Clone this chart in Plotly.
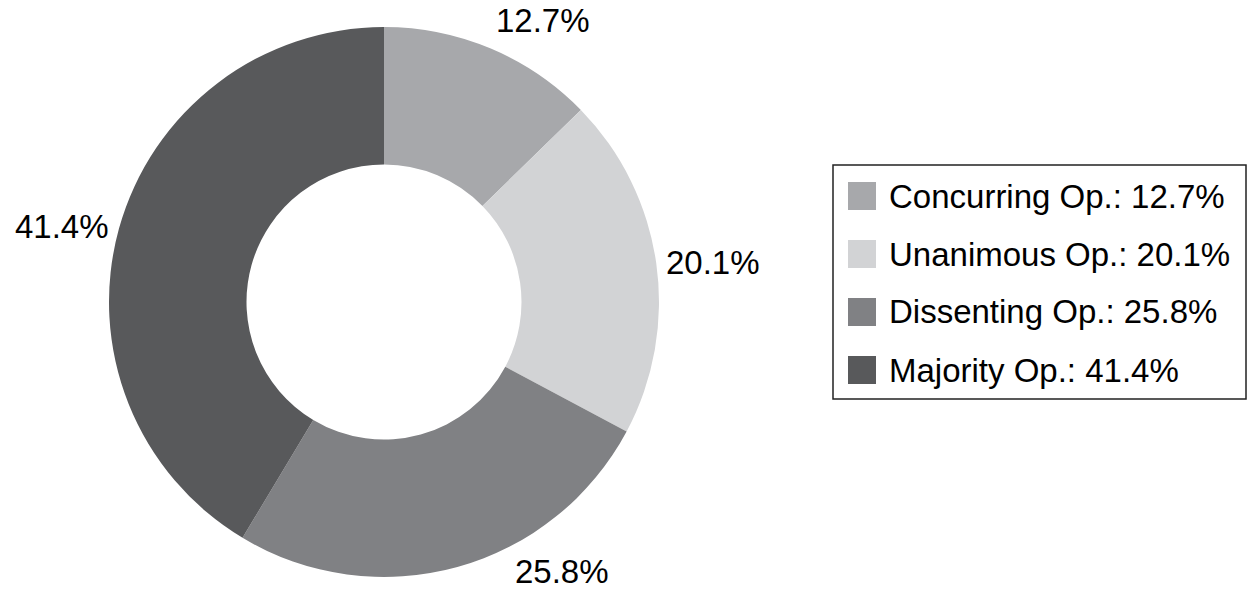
import math
import plotly.graph_objects as go

categories = ["Concurring Op.", "Unanimous Op.", "Dissenting Op.", "Majority Op."]
values = [12.7, 20.1, 25.8, 41.4]
colors = ["#a7a8ab", "#d2d3d5", "#808184", "#58595b"]
label_fmt = "{:.1f}%"

W, H = 1253, 592
FONT = "Liberation Sans, Arial, Helvetica, sans-serif"
FS = 33

# pie geometry (pixels)
CX, CY, R = 384, 302, 275

fig = go.Figure()
fig.add_trace(go.Pie(
    labels=categories,
    values=values,
    textinfo="none",
    hole=0.5,
    sort=False,
    direction="clockwise",
    rotation=0,
    marker=dict(colors=colors, line=dict(width=0)),
    showlegend=False,
    hoverinfo="label+percent",
    domain=dict(x=[(CX - R) / W, (CX + R) / W], y=[(H - CY - R) / H, (H - CY + R) / H]),
))

annotations = []
# outside percentage labels, placed at each slice's mid-angle
total = sum(values)
cum = 0.0
TH = FS * 1.15
GAP = 8
for v in values:
    mid = (cum + v / 2) / total * 2 * math.pi
    cum += v
    s, c = math.sin(mid), math.cos(mid)
    px = CX + (R + GAP) * s
    py = CY - (R + GAP) * c
    xa = "left" if s > 0.3 else ("right" if s < -0.3 else "center")
    ya = "bottom" if c > 0.3 else ("top" if c < -0.3 else "middle")
    # keep text inside canvas: slide along the rim until it fits
    if ya == "top" and py + TH > H:
        ya = "bottom"
        py = H
        top = H - TH
        dx = math.sqrt(max((R + GAP) ** 2 - (top - CY) ** 2, 0))
        if s >= 0:
            xa, px = "left", CX + dx
        else:
            xa, px = "right", CX - dx
    if ya == "bottom" and py - TH < 0:
        py = TH
    annotations.append(dict(xref="paper", yref="paper", x=px / W, y=1 - py / H,
                            xanchor=xa, yanchor=ya, showarrow=False,
                            text=label_fmt.format(v),
                            font=dict(family=FONT, size=FS, color="black")))

# custom legend (large square swatches)
lx0, lx1, ly0, ly1 = 833, 1246, 165, 399
row_h = 58
first_y = 196
shapes = [dict(type="rect", xref="paper", yref="paper",
               x0=lx0 / W, x1=lx1 / W, y0=1 - ly1 / H, y1=1 - ly0 / H,
               line=dict(color="#222", width=1.5), fillcolor="rgba(0,0,0,0)")]
for i, (c, v, col) in enumerate(zip(categories, values, colors)):
    cy = first_y + i * row_h
    shapes.append(dict(type="rect", xref="paper", yref="paper",
                       x0=848 / W, x1=876 / W,
                       y0=1 - (cy + 14) / H, y1=1 - (cy - 14) / H,
                       line=dict(width=0), fillcolor=col))
    annotations.append(dict(xref="paper", yref="paper", x=887 / W, y=1 - cy / H,
                            xanchor="left", yanchor="middle", showarrow=False,
                            text=f"{c}: {label_fmt.format(v)}",
                            font=dict(family=FONT, size=FS, color="black")))

fig.update_layout(
    width=W, height=H,
    margin=dict(l=0, r=0, t=0, b=0),
    paper_bgcolor="white", plot_bgcolor="white",
    shapes=shapes, annotations=annotations,
    font=dict(family=FONT, color="black"),
)
fig.write_html("out.html", config={"displayModeBar": False},
               post_script="document.body.style.margin='0';")
